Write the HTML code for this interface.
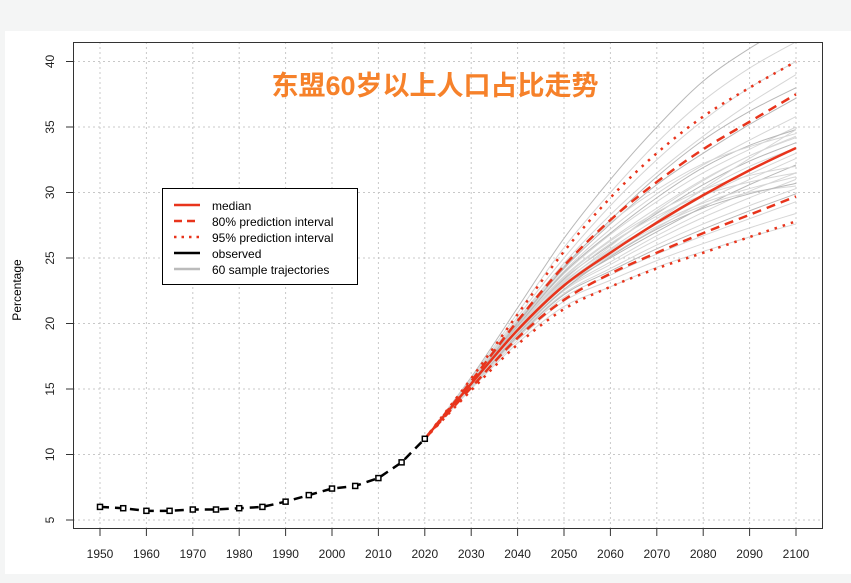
<!DOCTYPE html>
<html><head><meta charset="utf-8"><style>
body{margin:0;background:#f4f5f5;width:851px;height:583px;overflow:hidden}
svg{display:block}
text{font-family:"Liberation Sans","Noto Sans CJK SC",sans-serif}
</style></head><body>
<svg id="chart" width="851" height="583">
<defs><clipPath id="pc"><rect x="73.5" y="42.5" width="749" height="486"/></clipPath></defs>
<rect x="5" y="31" width="846" height="543" fill="#fff"/>
<g id="grid"></g><g id="traj" clip-path="url(#pc)"></g><g id="series" clip-path="url(#pc)"></g><g id="axes"></g>
<text x="435" y="95" text-anchor="middle" font-size="27" font-weight="bold" fill="#f6812a" style='font-family:"Liberation Sans","Noto Sans CJK SC",sans-serif'>东盟60岁以上人口占比走势</text>
<text transform="translate(21,290) rotate(-90)" text-anchor="middle" font-size="12" fill="#000">Percentage</text>
<g>
<rect x="162.5" y="188.5" width="195" height="96" fill="#fff" stroke="#000"/>
<line x1="174" y1="205" x2="200" y2="205" stroke="#e8341c" stroke-width="2.5"/>
<line x1="174" y1="221" x2="200" y2="221" stroke="#e8341c" stroke-width="2.5" stroke-dasharray="8,5"/>
<line x1="174" y1="237" x2="200" y2="237" stroke="#e8341c" stroke-width="2.5" stroke-dasharray="2.5,5"/>
<line x1="174" y1="253" x2="200" y2="253" stroke="#000" stroke-width="2.5"/>
<line x1="174" y1="269" x2="200" y2="269" stroke="#bbb" stroke-width="2.5"/>
<g font-size="12" fill="#000">
<text x="212" y="210">median</text>
<text x="212" y="226">80% prediction interval</text>
<text x="212" y="242">95% prediction interval</text>
<text x="212" y="258">observed</text>
<text x="212" y="274">60 sample trajectories</text>
</g></g>
</svg>
<script>
const obsYears=[1950,1955,1960,1965,1970,1975,1980,1985,1990,1995,2000,2005,2010,2015,2020];
const obsValues=[6.0,5.9,5.7,5.7,5.8,5.8,5.9,6.0,6.4,6.9,7.4,7.6,8.2,9.4,11.2];
const projYears=[2020,2030,2040,2050,2060,2070,2080,2090,2100];
const median=[11.2,15.4,19.5,22.9,25.4,27.7,29.8,31.7,33.4];
const upper80=[11.2,15.6,20.2,24.4,27.9,30.8,33.3,35.4,37.5];
const lower80=[11.2,15.1,18.9,21.8,23.8,25.4,26.9,28.3,29.7];
const upper95=[11.2,15.8,20.7,25.5,29.6,33.0,35.8,38.0,40.0];
const lower95=[11.2,14.9,18.4,21.1,22.8,24.2,25.4,26.6,27.8];
const trajectories=[
[11.2,15.9,21.2,26.5,31.0,35.0,38.5,41.0,43.0],
[11.2,15.8,20.8,25.8,30.0,33.8,37.0,39.5,41.5],
[11.2,15.7,20.5,25.0,29.0,32.5,35.5,38.0,40.0],
[11.2,15.7,20.3,24.6,28.3,31.5,34.3,36.8,39.0],
[11.2,15.6,20.1,24.2,27.6,30.6,33.0,35.2,37.2],
[11.2,15.6,20.0,24.0,27.2,29.9,32.1,34.0,35.8],
[11.2,15.5,19.9,23.8,26.8,29.3,31.5,33.3,35.0],
[11.2,15.5,19.8,23.6,26.4,28.8,31.0,32.8,34.3],
[11.2,15.5,19.7,23.4,26.0,28.4,30.6,32.4,33.8],
[11.2,15.4,19.6,23.2,25.7,28.0,30.2,32.0,33.4],
[11.2,15.4,19.5,23.0,25.5,27.6,29.7,31.4,33.0],
[11.2,15.4,19.5,22.9,25.2,27.3,29.3,31.0,32.6],
[11.2,15.3,19.4,22.8,25.0,27.0,28.9,30.6,32.1],
[11.2,15.3,19.3,22.6,24.7,26.7,28.5,30.1,31.5],
[11.2,15.3,19.2,22.5,24.5,26.4,28.1,29.6,31.0],
[11.2,15.2,19.1,22.3,24.2,26.0,27.6,29.0,30.3],
[11.2,15.2,19.0,22.2,24.0,25.7,27.2,28.6,29.9],
[11.2,15.1,18.9,22.0,23.7,25.3,26.7,28.0,29.3],
[11.2,15.1,18.7,21.7,23.3,24.8,26.1,27.3,28.4],
[11.2,15.0,18.5,21.3,22.8,24.3,25.5,26.6,27.6],
[11.2,15.4,19.8,23.9,26.9,29.6,31.9,33.6,34.8],
[11.2,15.5,19.6,23.1,25.9,28.6,30.9,32.8,34.2],
[11.2,15.3,19.4,22.9,25.4,27.4,29.0,30.0,30.5],
[11.2,15.4,19.7,23.5,26.3,28.5,30.2,31.3,32.0],
[11.2,15.2,19.2,22.6,25.1,27.2,28.8,29.9,30.7],
[11.2,15.6,20.2,24.4,27.7,30.2,32.2,33.5,34.5],
[11.2,15.3,19.5,23.3,26.1,28.2,29.8,30.8,31.5],
[11.2,15.4,19.4,22.8,25.3,27.8,30.3,32.6,34.8],
[11.2,15.5,20.0,24.3,27.9,31.2,34.0,36.2,38.0],
[11.2,15.2,19.3,22.9,25.6,27.6,29.2,30.3,31.2]];
const xTicks=[1950,1960,1970,1980,1990,2000,2010,2020,2030,2040,2050,2060,2070,2080,2090,2100];
const yTicks=[5,10,15,20,25,30,35,40];
const X=y=>100+(y-1950)*(696/150);
const Y=v=>520-(v-5)*13.1;
const NS='http://www.w3.org/2000/svg';
function mk(tag,attrs,parent){const e=document.createElementNS(NS,tag);for(const k in attrs)e.setAttribute(k,attrs[k]);parent.appendChild(e);return e;}
const grid=document.getElementById('grid'),traj=document.getElementById('traj'),ser=document.getElementById('series'),axes=document.getElementById('axes');
xTicks.forEach(t=>{const l=mk('line',{x1:X(t),x2:X(t),y1:42,y2:529,stroke:'#c8c8c8','stroke-dasharray':'2,3'},grid);

});
yTicks.forEach(t=>{const l=mk('line',{x1:73,x2:823,y1:Y(t),y2:Y(t),stroke:'#c8c8c8','stroke-dasharray':'2,3'},grid);

});
const pts=(ys,vs)=>ys.map((y,i)=>X(y)+','+Y(vs[i])).join(' ');
function smooth(ys,vs){const p=ys.map((y,i)=>[X(y),Y(vs[i])]);let d='M'+p[0][0]+','+p[0][1];
for(let i=0;i<p.length-1;i++){const p0=p[Math.max(0,i-1)],p1=p[i],p2=p[i+1],p3=p[Math.min(p.length-1,i+2)];
const c1=[p1[0]+(p2[0]-p0[0])/6,p1[1]+(p2[1]-p0[1])/6],c2=[p2[0]-(p3[0]-p1[0])/6,p2[1]-(p3[1]-p1[1])/6];
d+=' C'+c1[0]+','+c1[1]+' '+c2[0]+','+c2[1]+' '+p2[0]+','+p2[1];}return d;}
trajectories.forEach((t,i)=>{const p=mk('path',{d:smooth(projYears,t),fill:'none',stroke:i%4==0?'#b8b8b8':'#d6d6d6','stroke-width':1},traj);

});
function line(vs,dash,w,name){const p=mk('path',{d:smooth(projYears,vs),fill:'none',stroke:'#e8341c','stroke-width':w,'stroke-dasharray':dash},ser);

}
line(upper95,'2.5,6',2.5,'upper-95-line');line(lower95,'2.5,6',2.5,'lower-95-line');
line(upper80,'9,6',2.5,'upper-80-line');line(lower80,'9,6',2.5,'lower-80-line');
line(median,'',2.5,'median-line');
const ob=mk('polyline',{points:pts(obsYears,obsValues),fill:'none',stroke:'#000','stroke-width':2.5,'stroke-dasharray':'9,6'},ser);


obsYears.forEach((y,i)=>{const r=mk('rect',{x:X(y)-2.5,y:Y(obsValues[i])-2.5,width:5,height:5,fill:'#fff',stroke:'#000','stroke-width':1.5},ser);

});
const fr=mk('rect',{x:73.5,y:42.5,width:749,height:486,fill:'none',stroke:'#333','stroke-width':1},axes);


xTicks.forEach(t=>{mk('line',{x1:X(t),x2:X(t),y1:529,y2:536,stroke:'#333'},axes);
const tx=mk('text',{x:X(t),y:558,'text-anchor':'middle','font-size':12,fill:'#222'},axes);tx.textContent=t;

});
yTicks.forEach(t=>{mk('line',{x1:66,x2:73,y1:Y(t),y2:Y(t),stroke:'#333'},axes);
const tx=mk('text',{transform:`translate(54,${Y(t)}) rotate(-90)`,'text-anchor':'middle','font-size':12,fill:'#222'},axes);tx.textContent=t;

});
</script>
</body></html>
